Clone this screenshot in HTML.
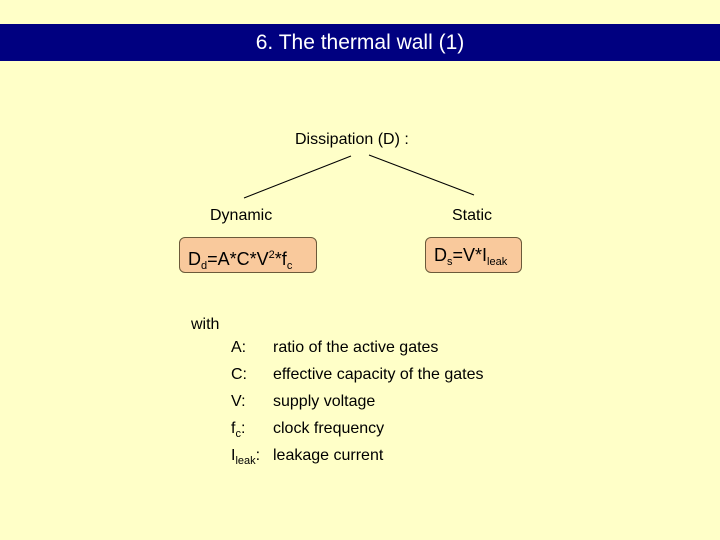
<!DOCTYPE html>
<html><head><style>
body{margin:0;width:720px;height:540px;background:#FFFFC8;position:relative;overflow:hidden;font-family:"Liberation Sans",sans-serif;color:#000}
.a{position:absolute;white-space:nowrap}
.bar{position:absolute;left:0;top:24px;width:720px;height:37px;background:#000080;color:#fff;font-size:21px;text-align:center;line-height:37px}
.box{position:absolute;background:#F9C99C;border:1px solid #6b5a3a;border-radius:6px;box-sizing:border-box;font-size:18px;line-height:34px;padding-left:8px}
sub{font-size:11px;vertical-align:-4px}
sup{font-size:11px;vertical-align:7px}
.t{font-size:16px}
</style></head><body>
<div class="bar">6. The thermal wall (1)</div>
<div class="a t" style="left:295px;top:131px">Dissipation (D) :</div>
<svg class="a" style="left:0;top:0" width="720" height="540"><line x1="351" y1="156" x2="244" y2="198" stroke="#000" stroke-width="1"/><line x1="369" y1="155" x2="474" y2="195" stroke="#000" stroke-width="1"/></svg>
<div class="a t" style="left:210px;top:207px">Dynamic</div>
<div class="a t" style="left:452px;top:207px">Static</div>
<div class="box" style="left:179px;top:237px;width:138px;height:36px">D<sub>d</sub>=A*C*V<sup>2</sup>*f<sub>c</sub></div>
<div class="box" style="left:425px;top:237px;width:97px;height:36px">D<sub>s</sub>=V*I<sub>leak</sub></div>
<div class="a t" style="left:191px;top:316px">with</div>
<div class="a t" style="left:231px;top:339px">A:</div><div class="a t" style="left:273px;top:339px">ratio of the active gates</div>
<div class="a t" style="left:231px;top:366px">C:</div><div class="a t" style="left:273px;top:366px">effective capacity of the gates</div>
<div class="a t" style="left:231px;top:393px">V:</div><div class="a t" style="left:273px;top:393px">supply voltage</div>
<div class="a t" style="left:231px;top:420px">f<sub>c</sub>:</div><div class="a t" style="left:273px;top:420px">clock frequency</div>
<div class="a t" style="left:231px;top:447px">I<sub>leak</sub>:</div><div class="a t" style="left:273px;top:447px">leakage current</div>
</body></html>
